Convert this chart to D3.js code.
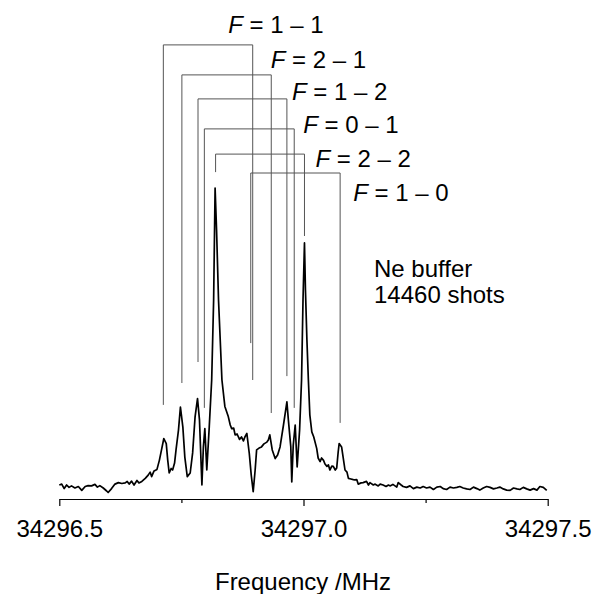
<!DOCTYPE html>
<html>
<head>
<meta charset="utf-8">
<script src="https://cdn.jsdelivr.net/npm/d3@7"></script>
<style>
  body { margin: 0; background: #fff; }
  text { font-family: Arial, "Liberation Sans", sans-serif; }
</style>
</head>
<body>
<div id="chart"></div>
<script>
var width = 593, height = 594;

// spectrum: [frequency MHz, intensity a.u.]
var spectrum = [
  [34296.500, 1.0], [34296.505, 1.3], [34296.510, -0.2], [34296.515, 1.0], [34296.520, 0.2],
  [34296.525, 0.7], [34296.532, 0.0], [34296.539, 0.5], [34296.546, -0.8], [34296.553, 0.5],
  [34296.559, 0.8], [34296.566, 0.7], [34296.573, 1.2], [34296.578, 0.3], [34296.583, 0.8],
  [34296.590, 0.0], [34296.597, -1.0], [34296.600, -1.5], [34296.607, -0.2], [34296.614, 1.3],
  [34296.621, 1.8], [34296.628, 1.5], [34296.635, 1.7], [34296.639, 2.2], [34296.643, 1.3],
  [34296.648, 2.3], [34296.653, 1.0], [34296.659, 2.5], [34296.663, 1.7], [34296.669, 2.2],
  [34296.676, 3.2], [34296.682, 4.3], [34296.686, 5.3], [34296.689, 3.8], [34296.694, 5.7],
  [34296.700, 6.2], [34296.705, 9.3], [34296.710, 13.3], [34296.714, 16.5], [34296.719, 14.8],
  [34296.722, 9.3], [34296.725, 5.0], [34296.729, 6.5], [34296.732, 6.0], [34296.736, 8.3],
  [34296.739, 12.7], [34296.744, 19.3], [34296.748, 27.0], [34296.753, 20.3], [34296.757, 10.3],
  [34296.762, 3.8], [34296.768, 5.0], [34296.773, 11.7], [34296.778, 23.7], [34296.783, 29.8],
  [34296.787, 22.7], [34296.792, 1.0], [34296.795, 13.7], [34296.798, 19.8], [34296.802, 6.0],
  [34296.807, 20.3], [34296.812, 36.0], [34296.816, 62.7], [34296.819, 100], [34296.822, 86.0],
  [34296.826, 62.7], [34296.833, 36.0], [34296.839, 27.2], [34296.846, 23.8], [34296.850, 21.0],
  [34296.853, 19.8], [34296.857, 20.0], [34296.860, 17.7], [34296.864, 18.0], [34296.869, 16.2],
  [34296.873, 17.0], [34296.877, 15.7], [34296.880, 17.0], [34296.884, 18.2], [34296.889, 11.5],
  [34296.893, 4.3], [34296.897, -1.2], [34296.901, 6.0], [34296.904, 12.7], [34296.909, 13.3],
  [34296.914, 13.7], [34296.919, 14.7], [34296.925, 15.3], [34296.928, 16.0], [34296.931, 17.7],
  [34296.936, 12.7], [34296.942, 9.8], [34296.947, 11.0], [34296.952, 13.7], [34296.959, 21.0],
  [34296.966, 28.7], [34296.969, 22.7], [34296.974, 13.7], [34296.976, 2.0], [34296.979, 14.3],
  [34296.983, 21.0], [34296.987, 7.0], [34296.992, 19.3], [34296.996, 36.0], [34296.999, 62.7],
  [34297.002, 81.7], [34297.004, 66.0], [34297.007, 49.3], [34297.010, 36.0], [34297.013, 24.3],
  [34297.017, 18.7], [34297.021, 17.0], [34297.027, 13.2], [34297.030, 10.0], [34297.034, 8.8],
  [34297.037, 10.0], [34297.041, 9.2], [34297.044, 8.0], [34297.048, 7.2], [34297.051, 7.7],
  [34297.054, 6.0], [34297.058, 7.3], [34297.061, 7.2], [34297.065, 6.0], [34297.068, 6.7],
  [34297.071, 12.0], [34297.073, 14.8], [34297.078, 13.7], [34297.082, 9.3], [34297.085, 6.0],
  [34297.089, 5.3], [34297.092, 3.2], [34297.097, 3.0], [34297.102, 2.8], [34297.105, 2.7],
  [34297.109, 2.8], [34297.112, 1.3], [34297.118, 1.7], [34297.122, 1.8], [34297.129, 2.2],
  [34297.133, 1.0], [34297.136, 1.8], [34297.143, 1.0], [34297.146, 1.3], [34297.153, 0.7],
  [34297.157, 1.3], [34297.163, 1.0], [34297.169, 0.5], [34297.174, 1.0], [34297.177, 0.7],
  [34297.183, 1.2], [34297.191, 0.3], [34297.194, 1.8], [34297.200, 1.0], [34297.204, 0.5],
  [34297.211, 0.2], [34297.218, 0.7], [34297.225, -0.2], [34297.232, 0.3], [34297.239, 0.0],
  [34297.245, 0.5], [34297.252, 0.0], [34297.259, 0.3], [34297.266, -0.5], [34297.273, 0.3],
  [34297.280, 0.5], [34297.286, -0.2], [34297.293, -0.5], [34297.300, 0.3], [34297.307, 0.0],
  [34297.314, 0.2], [34297.320, 0.5], [34297.327, 0.0], [34297.334, -0.3], [34297.341, -0.5],
  [34297.348, 0.3], [34297.355, -0.2], [34297.361, -0.7], [34297.368, 0.0], [34297.375, 0.5],
  [34297.382, 0.2], [34297.389, -0.3], [34297.396, 0.0], [34297.402, 0.3], [34297.409, -0.3],
  [34297.416, -0.7], [34297.423, -0.8], [34297.430, 0.0], [34297.437, -0.3], [34297.443, -0.5],
  [34297.450, 0.2], [34297.457, -0.3], [34297.464, -0.7], [34297.471, -0.2], [34297.478, -0.7],
  [34297.484, 0.5], [34297.491, 0.2], [34297.498, -0.8]
];

// hyperfine components, each a Doppler doublet
var transitions = ['1 \u2013 1', '2 \u2013 1', '1 \u2013 2', '0 \u2013 1', '2 \u2013 2', '1 \u2013 0'];
var freqLow  = [34296.713, 34296.751, 34296.784, 34296.797, 34296.820, 34296.892];
var freqHigh = [34296.896, 34296.934, 34296.966, 34296.981, 34297.002, 34297.075];
var bracketTop = [147.7, 137.7, 129.7, 119.7, 111.3, 105.0];
var lowEnd  = [27.7, 35.0, 42.0, 26.7, 105.3, 48.3];
var highEnd = [36.0, 25.0, 37.3, 26.7, 84.0, 21.7];

var majorTicks = [34296.5, 34297.0, 34297.5];
var minorTicks = [34296.75, 34297.25];
var noteLines = ['Ne buffer', '14460 shots'];

// label placement (pixels, relative to the right leg / bracket top)
var labelDx = [-24.5, -0.5, 5, 9, 11, 13];
var labelDy = [-12, -7, 1.5, 4.5, 12.5, 28];

var x = d3.scaleLinear().domain([34296.5, 34297.5]).range([59.3, 547.7]);
var y = d3.scaleLinear().domain([0, 100]).range([488, 188]);

var svg = d3.select('#chart')
  .append('svg')
  .attr('width', width)
  .attr('height', height);

// brackets
var br = svg.append('g').attr('class', 'brackets')
  .selectAll('g')
  .data(transitions)
  .enter()
  .append('g');

br.append('path')
  .attr('d', function(d, i) {
    return 'M' + x(freqLow[i]) + ',' + y(lowEnd[i]) +
      'V' + y(bracketTop[i]) +
      'H' + x(freqHigh[i]) +
      'V' + y(highEnd[i]);
  })
  .attr('fill', 'none')
  .attr('stroke', '#555')
  .attr('stroke-width', 1);

var lbl = br.append('text')
  .attr('x', (d, i) => x(freqHigh[i]) + labelDx[i])
  .attr('y', (d, i) => y(bracketTop[i]) + labelDy[i])
  .style('font-size', '24px')
  .attr('fill', '#000');
lbl.append('tspan').style('font-style', 'italic').text('F');
lbl.append('tspan').text(d => ' = ' + d);

// spectrum trace
var line = d3.line()
  .x(d => x(d[0]))
  .y(d => y(d[1]));

svg.append('path')
  .datum(spectrum)
  .attr('d', line)
  .attr('fill', 'none')
  .attr('stroke', '#000')
  .attr('stroke-width', 1.7)
  .attr('stroke-linejoin', 'round');

// x axis
var axisY = 499;
var xAxis = d3.axisBottom(x)
  .tickValues(majorTicks)
  .tickSize(7)
  .tickSizeOuter(0)
  .tickPadding(14)
  .tickFormat(d3.format('.1f'));

var gx = svg.append('g')
  .attr('transform', 'translate(0,' + axisY + ')')
  .call(xAxis);
gx.selectAll('text')
  .style('font-size', '24px')
  .style('font-family', 'Arial, "Liberation Sans", sans-serif')
  .attr('fill', '#000');
gx.selectAll('line, path').attr('stroke', '#000').attr('stroke-width', 1.2);

svg.append('g')
  .attr('transform', 'translate(0,' + axisY + ')')
  .call(d3.axisBottom(x).tickValues(minorTicks).tickSize(4).tickSizeOuter(0).tickFormat(''))
  .call(g => g.select('.domain').remove())
  .selectAll('line').attr('stroke', '#000').attr('stroke-width', 1.2);

svg.append('text')
  .attr('x', 303)
  .attr('y', 590)
  .attr('text-anchor', 'middle')
  .style('font-size', '24px')
  .text('Frequency /MHz');

svg.append('g').selectAll('text')
  .data(noteLines)
  .enter()
  .append('text')
  .attr('x', 374)
  .attr('y', (d, i) => 277 + i * 26)
  .style('font-size', '24px')
  .text(d => d);
</script>
</body>
</html>
